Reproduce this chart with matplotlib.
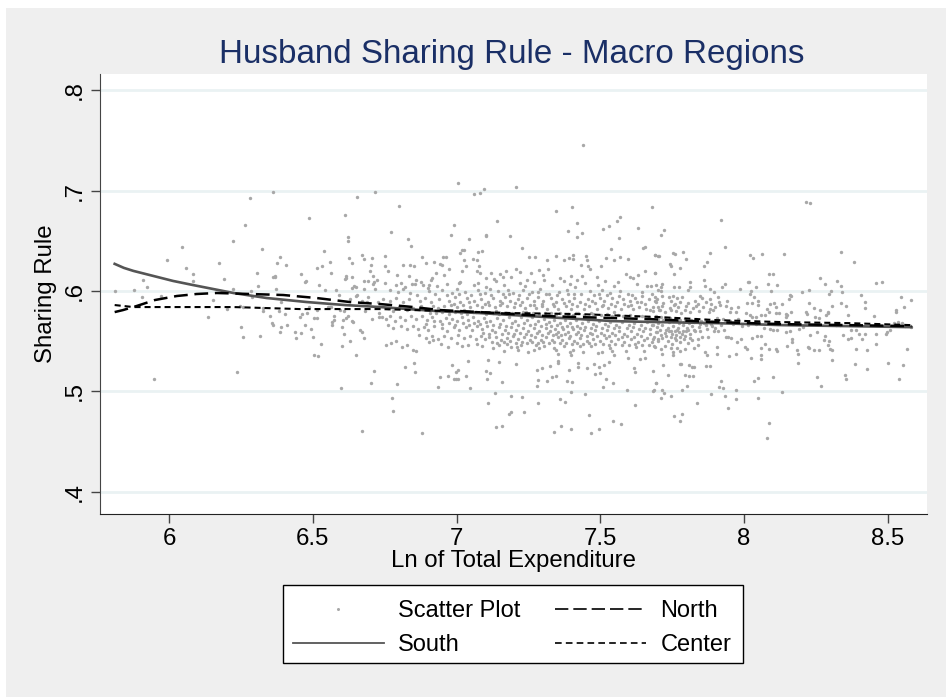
import matplotlib
matplotlib.use("Agg")
import matplotlib.pyplot as plt
from matplotlib.lines import Line2D
from matplotlib.patches import Rectangle

plt.rcParams['font.family'] = ['Liberation Sans', 'DejaVu Sans']

# points, (ln expenditure, sharing rule)
pts_left = [
    (5.811,.600),(5.879,.601),(5.908,.611),(5.925,.604),(5.905,.594),(5.972,.595),(5.949,.512),(5.993,.631),
    (6.046,.644),(6.058,.623),(6.082,.617),(6.082,.610),(6.152,.591),(6.136,.574),(6.174,.628),(6.191,.612),
    (6.224,.650),(6.263,.666),(6.283,.693),(6.363,.699),(6.224,.602),(6.238,.519),(6.249,.564),(6.257,.554),
    (6.202,.582),(6.247,.585),(6.258,.584),(6.285,.600),(6.287,.594),(6.308,.605),(6.307,.618),(6.324,.642),
    (6.315,.555),(6.326,.583),(6.328,.580),(6.352,.575),(6.357,.568),(6.360,.566),(6.362,.614),(6.368,.615),
    (6.369,.614),(6.373,.602),(6.374,.628),(6.387,.634),(6.407,.626),(6.390,.589),(6.384,.580),(6.402,.577),
    (6.388,.564),(6.385,.559),(6.410,.566),(6.439,.559),(6.440,.553),(6.458,.558),(6.459,.617),(6.473,.609),
    (6.476,.610),(6.454,.574),(6.463,.577),(6.480,.578),(6.474,.566),(6.495,.562),(6.502,.554),(6.488,.584),
    (6.504,.573),(6.516,.573),(6.515,.581),(6.516,.623),(6.533,.625),(6.538,.640),(6.560,.629),(6.563,.618),
    (6.523,.606),(6.543,.601),(6.582,.601),(6.527,.547),(6.504,.536),(6.518,.535),(6.488,.673),(6.612,.676),
    (6.655,.694),(6.717,.699),(6.621,.654),(6.621,.650),(6.625,.633),(6.638,.628),(6.670,.636),(6.677,.632),
    (6.705,.633),(6.701,.626),(6.699,.620),(6.612,.612),(6.615,.615),(6.616,.613),(6.635,.614),(6.643,.605),
    (6.652,.604),(6.635,.603),(6.677,.610),(6.691,.610),(6.708,.615),(6.714,.609),(6.710,.607),(6.722,.611),
    (6.717,.602),(6.677,.602),(6.691,.594),(6.592,.596),(6.564,.584),(6.554,.584),(6.560,.584),(6.574,.575),
    (6.574,.571),(6.566,.569),(6.566,.566),(6.600,.564),(6.604,.571),(6.615,.573),(6.623,.575),(6.638,.570),
    (6.639,.569),(6.595,.581),(6.610,.580),(6.628,.592),(6.652,.595),(6.654,.596),(6.609,.557),(6.629,.550),
    (6.601,.545),(6.651,.536),(6.665,.561),(6.671,.559),(6.679,.553),(6.705,.572),(6.712,.520),(6.701,.508),
    (6.599,.503),(6.671,.461),(6.731,.578),(6.731,.574),(6.728,.589),(6.681,.580),(6.670,.590),(6.687,.589),
]
pts_mid_sparse = [
    (7.440,.745),(7.006,.707),(7.060,.697),(7.083,.698),(7.097,.702),(7.207,.704),(6.801,.685),(6.773,.659),
    (6.830,.652),(6.841,.645),(6.751,.635),(6.990,.666),(6.982,.656),(7.043,.652),(7.141,.670),(7.101,.656),
    (7.104,.655),(7.185,.655),(7.229,.643),(7.346,.680),(7.400,.684),(7.420,.668),(7.386,.660),(7.437,.658),
    (7.418,.654),(7.508,.662),(7.531,.665),(7.558,.670),(7.567,.674),(7.566,.653),(7.632,.663),(7.681,.684),
    (7.649,.643),(7.655,.644),(7.537,.642),(7.012,.638),(7.019,.641),(7.026,.641),(7.074,.639),(7.087,.640),
    (7.027,.631),(7.058,.632),(7.070,.631),(6.881,.634),(6.895,.628),(6.923,.629),(6.954,.634),(6.963,.634),
    (6.943,.627),(6.948,.626),(6.975,.622),(7.253,.634),(7.272,.634),(7.316,.631),(7.346,.635),(7.374,.631),
    (7.390,.633),(7.406,.636),(7.404,.632),(7.451,.635),(7.455,.631),(7.432,.626),(7.458,.625),(7.464,.622),
    (7.503,.625),(7.521,.633),(7.549,.631),(7.569,.634),(7.597,.632),(7.690,.636),(7.702,.635),(7.691,.618),
    (7.655,.620),(7.078,.625),(7.032,.625),(7.019,.620),(7.070,.620),(7.082,.618),(6.750,.625),(6.815,.626),
    (6.837,.626),(6.853,.625),(6.763,.620),(6.793,.616),(6.836,.615),(6.859,.611),(6.857,.607),(6.928,.618),
    (6.958,.616),(6.914,.613),(6.910,.611),(6.882,.606),(6.902,.603),(7.009,.608),
    (6.879,.459),(6.776,.493),(6.779,.481),(6.793,.507),(6.934,.504),(7.048,.503),(7.134,.498),(7.111,.488),
    (7.191,.495),(7.229,.494),(7.184,.478),(7.188,.480),(7.235,.480),(7.137,.465),(7.159,.466),(7.284,.488),
    (7.338,.460),(7.362,.466),(7.398,.463),(7.359,.492),(7.378,.489),(7.397,.499),(7.445,.497),(7.459,.477),
    (7.469,.459),(7.495,.463),(7.543,.471),(7.571,.468),(7.620,.487),(7.594,.501),(7.684,.500),(7.686,.501),
    (7.693,.508),(7.281,.505),(7.284,.511),(7.315,.510),(7.331,.514),(7.346,.515),(7.384,.510),(7.403,.509),
    (7.509,.504),(7.521,.512),(7.545,.508),(7.483,.517),(7.499,.518),(7.157,.509),(7.106,.512),(7.104,.520),
    (7.115,.518),(6.943,.514),(6.970,.515),(6.991,.512),(6.998,.512),(7.004,.512),(7.034,.515),(7.004,.521),
    (6.998,.519),(6.985,.526),(7.039,.530),(6.821,.524),(6.851,.528),(6.855,.519),(7.109,.531),(7.148,.529),
    (7.207,.527),(7.281,.521),(7.296,.523),(7.326,.525),(7.353,.528),(7.354,.530),(7.390,.521),(7.421,.524),
    (7.423,.528),(7.452,.523),(7.478,.527),(7.496,.524),(7.514,.526),(7.531,.529),(7.596,.533),(7.617,.523),
    (7.622,.519),(7.637,.532),(7.655,.533),(7.682,.520),
]
pts_mid_dense = [
    (6.752,.608),(6.788,.606),(6.806,.608),(6.821,.604),(6.846,.607),(6.877,.609),(6.903,.606),(6.932,.605),
    (6.968,.607),(7.012,.609),(7.061,.606),(7.076,.608),(7.102,.604),(7.136,.610),(7.166,.606),(7.221,.608),
    (7.238,.605),(7.271,.609),(7.305,.611),(7.331,.606),(7.372,.610),(7.396,.607),(7.412,.604),(7.447,.608),
    (7.492,.606),(7.516,.610),(7.547,.605),(7.562,.609),(7.627,.607),(7.661,.605),(7.693,.606),
    (7.120,.618),(7.150,.617),(7.172,.620),(7.188,.614),(7.205,.622),(7.222,.619),(7.260,.618),(7.285,.621),
    (7.300,.616),(7.318,.622),(7.360,.613),(7.398,.615),(7.420,.611),(7.437,.615),(7.490,.614),(7.590,.617),
    (7.602,.614),(7.632,.616),(7.612,.613),(7.104,.613),(7.130,.612),(7.160,.614),(7.245,.611),
    (6.770,.601),(6.795,.599),(6.815,.602),(6.838,.598),(6.862,.596),(6.905,.600),(6.925,.597),(6.950,.601),
    (6.983,.598),(7.000,.602),(7.030,.599),(7.050,.596),(7.075,.601),(7.100,.598),(7.115,.602),(7.145,.600),
    (7.163,.597),(7.178,.601),(7.195,.598),(7.232,.601),(7.262,.599),(7.290,.602),(7.312,.597),(7.355,.599),
    (7.385,.601),(7.408,.597),(7.465,.600),(7.478,.596),(7.505,.601),(7.535,.598),(7.570,.600),(7.610,.596),
    (7.645,.599),(7.678,.597),(7.700,.601),
    (6.745,.592),(6.768,.590),(6.790,.593),(6.812,.589),(6.833,.592),(6.872,.590),(6.890,.593),(6.912,.589),
    (6.940,.592),(6.972,.590),(6.995,.594),(7.012,.589),(7.035,.593),(7.062,.590),(7.084,.592),(7.108,.589),
    (7.127,.593),(7.152,.590),(7.170,.594),(7.186,.590),(7.212,.592),(7.228,.589),(7.246,.593),(7.270,.590),
    (7.284,.594),(7.302,.590),(7.328,.593),(7.345,.589),(7.366,.592),(7.392,.590),(7.410,.593),(7.428,.589),
    (7.456,.592),(7.472,.590),(7.498,.593),(7.514,.590),(7.540,.593),(7.558,.589),(7.580,.592),(7.602,.590),
    (7.622,.593),(7.640,.589),(7.668,.592),(7.690,.590),
    (6.760,.583),(6.778,.580),(6.800,.584),(6.826,.581),(6.850,.583),(6.878,.585),(6.895,.582),(6.918,.585),
    (6.935,.583),(6.958,.585),(6.980,.586),(7.003,.584),(7.022,.586),(7.046,.584),(7.070,.586),(7.090,.584),
    (7.112,.586),(7.134,.584),(7.150,.586),(7.175,.585),(7.198,.584),(7.220,.586),(7.238,.583),(7.256,.586),
    (7.276,.583),(7.298,.585),(7.316,.582),(7.338,.585),(7.352,.582),(7.380,.585),(7.398,.582),(7.420,.585),
    (7.442,.582),(7.462,.585),(7.488,.582),(7.506,.585),(7.528,.583),(7.552,.585),(7.572,.582),(7.595,.585),
    (7.615,.582),(7.636,.584),(7.660,.582),(7.682,.584),(7.705,.581),
    (6.742,.574),(6.756,.572),(6.770,.575),(6.786,.570),(6.805,.574),(6.822,.571),(6.842,.575),(6.860,.572),
    (6.880,.575),(6.897,.571),(6.916,.574),(6.942,.570),(6.962,.573),(6.985,.572),(7.002,.570),(7.018,.574),
    (7.040,.571),(7.058,.574),(7.076,.570),(7.095,.573),(7.118,.570),(7.140,.573),(7.162,.571),(7.182,.574),
    (7.202,.570),(7.224,.574),(7.244,.571),(7.262,.574),(7.282,.570),(7.304,.572),(7.322,.569),(7.340,.571),
    (7.358,.568),(7.378,.571),(7.396,.568),(7.416,.571),(7.436,.568),(7.458,.570),(7.476,.567),(7.496,.570),
    (7.516,.567),(7.534,.569),(7.556,.566),(7.576,.569),(7.598,.566),(7.618,.568),(7.640,.566),(7.662,.569),
    (7.684,.566),(7.702,.568),
    (6.762,.566),(6.780,.563),(6.808,.565),(6.826,.562),(6.848,.565),(6.866,.562),(6.886,.564),(6.902,.561),
    (6.922,.565),(6.948,.563),(6.966,.560),(6.990,.564),(7.010,.561),(7.032,.564),(7.052,.561),(7.072,.565),
    (7.088,.562),(7.106,.565),(7.124,.561),(7.148,.564),(7.168,.561),(7.190,.564),(7.208,.561),(7.230,.563),
    (7.250,.560),(7.268,.563),(7.288,.560),(7.310,.563),(7.326,.560),(7.344,.562),(7.354,.559),(7.370,.562),
    (7.388,.559),(7.406,.562),(7.424,.559),(7.444,.561),(7.464,.558),(7.482,.561),(7.502,.558),(7.522,.561),
    (7.540,.558),(7.564,.560),(7.584,.557),(7.606,.560),(7.628,.557),(7.650,.560),(7.672,.557),(7.696,.559),
    (6.870,.556),(6.895,.553),(6.915,.555),(6.936,.552),(6.958,.555),(6.980,.553),(7.006,.556),(7.026,.553),
    (7.046,.555),(7.066,.552),(7.086,.555),(7.100,.552),(7.112,.554),(7.138,.554),(7.156,.551),(7.176,.553),
    (7.196,.555),(7.214,.552),(7.236,.554),(7.254,.551),(7.272,.554),(7.292,.551),(7.312,.554),(7.332,.551),
    (7.352,.554),(7.368,.551),(7.392,.553),(7.410,.550),(7.430,.553),(7.452,.550),(7.474,.552),(7.498,.550),
    (7.520,.553),(7.538,.550),(7.560,.552),(7.582,.549),(7.606,.552),(7.630,.549),(7.652,.551),(7.678,.549),
    (6.755,.546),(6.773,.548),(6.790,.550),(6.810,.544),(6.828,.546),(6.848,.541),(6.860,.540),(6.905,.549),
    (6.918,.551),(6.945,.547),(6.970,.544),(7.000,.548),(7.020,.545),(7.040,.546),(7.070,.547),(7.090,.545),
    (7.126,.543),(7.148,.546),(7.164,.540),(7.176,.547),(7.190,.544),(7.210,.544),(7.214,.541),(7.225,.546),
    (7.248,.539),(7.270,.541),(7.276,.546),(7.288,.543),(7.304,.545),(7.340,.543),(7.345,.541),(7.352,.537),
    (7.372,.545),(7.395,.539),(7.405,.541),(7.398,.536),(7.428,.545),(7.440,.539),(7.468,.545),(7.492,.538),
    (7.506,.539),(7.534,.543),(7.540,.540),(7.548,.536),(7.590,.540),(7.625,.544),(7.652,.540),(7.688,.545),
]
# the thick middle of the cloud, second pass
pts_mid_core = [
    (6.965,.596),(6.992,.587),(7.008,.597),(7.026,.581),(7.044,.589),(7.067,.579),(7.083,.597),(7.098,.587),
    (7.119,.596),(7.136,.580),(7.158,.588),(7.172,.578),(7.184,.597),(7.204,.588),(7.216,.596),(7.241,.579),
    (7.253,.597),(7.268,.586),(7.282,.599),(7.296,.587),(7.308,.578),(7.322,.597),(7.336,.587),(7.349,.596),
    (7.360,.578),(7.374,.588),(7.389,.597),(7.402,.587),(7.414,.578),(7.432,.597),(7.448,.587),(7.466,.578),
    (7.480,.588),(7.494,.597),(7.510,.586),(7.522,.596),(7.538,.587),(7.548,.579),(7.566,.595),(7.584,.587),
    (7.596,.597),(7.606,.586),(7.626,.589),(7.644,.595),(7.654,.587),(7.672,.581),
    (6.894,.567),(6.922,.570),(6.948,.567),(6.975,.568),(6.996,.566),(7.022,.568),(7.042,.566),(7.062,.568),
    (7.082,.567),(7.101,.569),(7.128,.566),(7.152,.567),(7.172,.565),(7.192,.568),(7.214,.566),(7.234,.568),
    (7.254,.566),(7.274,.567),(7.292,.565),(7.312,.567),(7.330,.565),(7.348,.566),(7.366,.564),(7.384,.565),
    (7.402,.564),(7.420,.565),(7.430,.563),(7.448,.564),(7.466,.563),(7.486,.565),(7.506,.563),(7.526,.565),
    (7.546,.563),(7.566,.564),(7.592,.563),(7.612,.564),(7.636,.562),(7.656,.563),(7.674,.562),
    (7.092,.558),(7.114,.557),(7.134,.559),(7.158,.557),(7.178,.558),(7.198,.557),(7.220,.558),(7.242,.557),
    (7.260,.556),(7.278,.558),(7.298,.556),(7.318,.558),(7.336,.556),(7.346,.557),(7.362,.556),(7.378,.557),
    (7.396,.555),(7.414,.557),(7.434,.556),(7.454,.555),(7.472,.557),(7.490,.555),(7.512,.556),(7.530,.555),
    (7.552,.556),(7.574,.554),(7.594,.555),(7.618,.554),(7.642,.555),(7.664,.553),(7.688,.554),
    (7.122,.549),(7.142,.548),(7.166,.549),(7.186,.550),(7.205,.548),(7.228,.549),(7.246,.548),(7.264,.549),
    (7.284,.548),(7.302,.549),(7.322,.548),(7.338,.549),(7.360,.548),(7.382,.548),(7.402,.547),(7.420,.548),
    (7.440,.547),(7.462,.548),(7.482,.547),(7.510,.547),(7.530,.546),(7.552,.547),(7.574,.546),(7.598,.546),
    (7.620,.547),(7.644,.546),(7.668,.546),
    (6.906,.578),(6.928,.578),(6.950,.579),(6.972,.577),(6.994,.579),(7.014,.578),(7.036,.577),(7.056,.579),
    (7.104,.577),(7.126,.578),(7.148,.577),(7.192,.578),(7.212,.577),(7.232,.579),(7.266,.578),(7.286,.577),
    (7.328,.578),(7.346,.577),(7.386,.577),(7.404,.576),(7.424,.578),(7.444,.576),(7.474,.577),(7.502,.576),
    (7.522,.577),(7.542,.575),(7.560,.576),(7.578,.575),(7.604,.576),(7.624,.574),(7.646,.575),(7.668,.574),
    (7.692,.575),(7.710,.574),(7.724,.572),(7.742,.573),(7.760,.572),(7.778,.571),(7.796,.572),(7.814,.571),
    (7.832,.572),(7.850,.570),(7.868,.571),(7.888,.570),(7.906,.573),(7.928,.572),(7.952,.570),(7.980,.572),
    (7.700,.552),(7.712,.556),(7.730,.555),(7.746,.554),(7.760,.553),(7.778,.554),(7.794,.555),(7.812,.553),
    (7.728,.561),(7.746,.560),(7.766,.561),(7.788,.560),(7.806,.561),(7.824,.561),(7.848,.560),(7.870,.562),
    (7.702,.572),(7.718,.571),(7.738,.569),(7.754,.570),(7.772,.568),(7.790,.569),(7.808,.568),(7.826,.569),
    (7.846,.567),(7.862,.568),(7.884,.567),
]
pts_right = [
    (7.920,.671),(7.711,.656),(7.722,.661),(7.934,.644),(7.689,.636),(7.704,.635),(7.751,.638),(7.759,.637),
    (7.787,.639),(7.799,.632),(7.743,.627),(7.746,.625),(7.777,.623),(7.689,.618),(7.757,.617),(7.883,.638),
    (7.872,.629),(7.862,.625),(8.020,.636),(8.031,.633),(8.061,.637),(8.137,.637),(8.214,.689),(8.229,.688),
    (8.338,.639),(8.383,.629),(8.087,.617),(8.100,.617),(8.264,.613),(8.280,.607),(8.322,.610),(8.336,.605),
    (8.339,.599),(8.301,.600),(8.295,.597),(8.460,.608),(8.481,.609),(8.547,.594),(8.582,.591),(8.555,.584),
    (8.405,.596),(8.422,.589),(8.419,.583),(8.527,.581),(8.529,.579),(8.453,.575),(8.361,.576),(8.356,.585),
    (8.336,.588),(8.305,.585),(8.292,.579),(8.285,.576),(7.861,.611),(7.863,.605),(7.881,.602),(7.897,.599),
    (7.813,.609),(7.811,.604),(7.806,.601),(7.714,.607),(7.711,.604),(7.757,.604),(7.775,.604),(7.675,.605),
    (7.710,.600),(7.934,.607),(7.923,.604),(7.986,.602),(8.014,.609),(8.017,.609),(8.042,.604),(8.025,.600),
    (8.021,.597),(8.035,.594),(8.083,.607),(8.115,.606),(8.095,.600),(8.202,.599),(8.225,.601),(8.159,.596),
    (8.164,.595),(8.156,.592),(7.913,.589),(7.940,.590),(7.937,.585),(7.977,.584),(7.971,.579),(7.954,.583),
    (7.952,.579),(8.010,.588),(8.028,.588),(8.049,.590),(8.049,.586),(8.090,.587),(8.104,.588),(8.111,.584),
    (8.132,.587),(8.080,.582),(8.086,.579),(8.110,.578),(8.123,.578),(8.145,.577),(8.163,.579),(8.145,.574),
    (8.149,.576),(8.008,.578),(8.020,.576),(8.029,.574),(8.043,.574),(8.058,.576),(8.072,.576),(8.225,.588),
    (8.244,.583),(8.263,.581),(8.293,.578),(8.214,.579),(8.217,.577),(8.248,.574),(8.259,.573),(8.344,.556),
    (8.360,.552),(8.372,.553),(8.389,.561),(8.370,.561),(8.399,.557),(8.410,.552),(8.419,.557),(8.458,.557),
    (8.492,.557),(8.498,.559),(8.506,.561),(8.388,.542),(8.426,.541),(8.458,.547),(8.565,.542),(8.386,.527),
    (8.426,.522),(8.499,.528),(8.551,.526),(8.538,.512),(8.352,.516),(8.356,.512),(8.252,.514),(8.266,.505),
    (8.306,.531),(8.298,.542),(8.305,.541),(8.291,.546),(8.295,.550),(8.278,.551),(8.242,.541),(8.261,.541),
    (8.225,.543),(8.221,.544),(8.188,.537),(8.184,.541),(8.189,.528),(8.149,.545),(8.166,.552),(8.166,.549),
    (8.110,.542),(8.116,.540),(8.086,.542),(8.058,.543),(8.059,.536),(8.060,.532),(8.025,.533),(8.002,.544),
    (8.011,.542),(7.972,.537),(7.947,.535),(7.906,.537),(7.904,.544),(8.072,.547),(8.045,.555),(8.058,.555),
    (8.029,.553),(7.989,.552),(7.976,.549),(7.938,.554),(7.945,.554),(7.954,.553),(7.929,.561),(7.910,.560),
    (7.894,.560),(7.875,.554),(7.852,.554),(7.838,.552),(7.863,.539),(7.871,.536),(7.838,.546),(7.826,.543),
    (7.883,.525),(7.867,.525),(7.824,.524),(7.809,.526),(7.818,.524),(7.781,.527),(7.777,.527),(7.717,.526),
    (7.736,.516),(7.795,.516),(7.809,.515),(7.823,.515),(7.801,.505),(7.784,.501),(7.694,.508),(7.714,.501),
    (7.722,.498),(7.711,.493),(7.745,.495),(7.835,.488),(7.886,.497),(7.911,.504),(7.928,.503),(7.920,.510),
    (7.932,.495),(7.973,.501),(7.972,.492),(7.944,.484),(7.755,.476),(7.783,.478),(7.777,.471),(8.035,.510),
    (8.047,.513),(8.102,.514),(8.047,.493),(8.133,.499),(8.086,.469),(8.078,.454),
    (7.739,.594),(7.753,.595),(7.767,.593),(7.784,.594),(7.846,.595),(7.852,.593),(7.881,.592),(7.910,.594),
    (7.689,.594),(7.697,.592),(7.716,.595),(7.695,.589),(7.718,.588),(7.747,.590),(7.759,.587),(7.776,.589),
    (7.805,.588),(7.828,.590),(7.840,.587),(7.869,.589),(7.886,.587),(7.915,.586),(7.701,.584),(7.713,.585),
    (7.742,.583),(7.755,.586),(7.770,.584),(7.799,.585),(7.823,.583),(7.834,.585),(7.857,.584),(7.881,.582),
    (7.898,.584),(7.684,.580),(7.707,.581),(7.724,.579),(7.744,.581),(7.762,.580),(7.779,.578),(7.794,.581),
    (7.811,.579),(7.843,.580),(7.878,.579),(7.892,.581),(7.680,.566),(7.696,.564),(7.716,.566),(7.735,.563),
    (7.752,.565),(7.770,.563),(7.786,.566),(7.802,.563),(7.820,.565),(7.842,.564),(7.866,.566),(7.890,.565),
    (7.692,.559),(7.708,.561),(7.724,.558),(7.738,.560),(7.750,.557),(7.758,.560),(7.763,.556),(7.772,.559),
    (7.784,.557),(7.798,.560),(7.812,.557),(7.828,.560),(7.900,.563),(7.918,.566),(7.960,.567),(7.992,.565),
    (8.012,.566),(8.040,.567),(8.070,.563),(8.090,.562),(7.682,.552),(7.702,.550),(7.716,.553),(7.736,.550),
    (7.748,.547),(7.764,.551),(7.776,.549),(7.792,.552),(7.806,.548),(7.820,.551),(7.690,.544),(7.710,.542),
    (7.725,.545),(7.744,.543),(7.752,.539),(7.768,.543),(7.778,.540),(7.795,.542),(7.714,.537),(7.752,.536),
    (8.145,.559),(8.115,.561),(8.100,.561),(8.160,.560),(8.190,.562),(8.205,.564),(8.230,.556),(8.252,.559),
    (8.280,.555),(8.320,.566),(8.335,.566),(8.520,.568),(8.534,.569),(8.548,.568),(8.560,.565),(8.582,.564),
]

# smoothed lines
south_x = [5.811,5.843,5.876,5.945,6.014,6.082,6.153,6.224,6.34,6.479,6.612,6.734,6.931,7.082,7.313,7.545,7.707,7.904,8.135,8.367,8.582]
south_y = [.627,.623,.620,.615,.610,.606,.602,.598,.593,.589,.586,.584,.580,.578,.574,.570,.569,.568,.566,.565,.564]
north_x = [5.811,5.84,5.887,5.951,6.027,6.096,6.166,6.282,6.397,6.513,6.629,6.734,6.85,6.943,7.082,7.313,7.672,7.904,8.135,8.367,8.582]
north_y = [.579,.581,.585,.591,.595,.597,.598,.597,.596,.593,.589,.587,.584,.581,.579,.575,.572,.569,.567,.566,.565]
center_x = [5.811,5.876,5.992,6.224,6.455,6.734,6.966,7.197,7.429,7.707,7.904,8.135,8.367,8.582]
center_y = [.586,.584,.584,.584,.582,.582,.580,.578,.577,.574,.571,.569,.568,.566]

x_ticks = [6, 6.5, 7, 7.5, 8, 8.5]
x_labels = ["6", "6.5", "7", "7.5", "8", "8.5"]
y_ticks = [.4, .5, .6, .7, .8]
y_labels = [".4", ".5", ".6", ".7", ".8"]

W, H = 952, 697
fig = plt.figure(figsize=(W / 100, H / 100), dpi=100, facecolor="white")
fig.add_artist(Rectangle((6 / W, 0), 940 / W, (H - 8) / H, transform=fig.transFigure,
                         facecolor="#efefef", edgecolor="none", zorder=-1))

ax = fig.add_axes([100 / W, 1 - 514 / H, 827 / W, 440 / H])
ax.set_xlim(5.760, 8.636)
ax.set_ylim(.378, .816)
ax.set_axisbelow(True)
ax.grid(axis="y", color="#eaf2f3", linewidth=2)

all_pts = pts_left + pts_mid_sparse + pts_mid_dense + pts_mid_core + pts_right
ax.scatter([p[0] for p in all_pts], [p[1] for p in all_pts], s=6, color="#a8a8a8", linewidths=0, zorder=2)
ax.plot(south_x, south_y, color="#555555", linewidth=1.9, zorder=3)
ax.plot(north_x, north_y, color="black", linewidth=1.8, dashes=(5.5, 2.7), zorder=3)
ax.plot(center_x, center_y, color="black", linewidth=1.5, dashes=(2.9, 1.9), zorder=3)

for side in ["top", "right"]:
    ax.spines[side].set_visible(False)
ax.spines["left"].set_color("#444444")
ax.spines["bottom"].set_color("#222222")

ax.set_xticks(x_ticks)
ax.set_xticklabels(x_labels, fontsize=17.3)
ax.set_yticks(y_ticks)
ax.set_yticklabels(y_labels, fontsize=17.3, rotation=90, va="center")
ax.tick_params(length=6.7, width=1, color="#444444", pad=3.5)
ax.set_xlabel("Ln of Total Expenditure", fontsize=17.3, labelpad=0)
ax.set_ylabel("Sharing Rule", fontsize=17.3, labelpad=5)
fig.text(512 / W, 1 - 55 / H, "Husband Sharing Rule - Macro Regions", fontsize=23.9, color="#1a2f66",
         ha="center", va="center")

# legend frame on its own, the entries sit a little low in it
fig.add_artist(Rectangle((283 / W, 1 - 663 / H), 460 / W, 78 / H, transform=fig.transFigure,
                         facecolor="white", edgecolor="black", linewidth=1, zorder=4))
h_scatter = Line2D([], [], linestyle="none", marker="o", markersize=2.2, markeredgewidth=0, color="#a8a8a8")
h_south = Line2D([], [], color="#555555", linewidth=1.3)
h_north = Line2D([], [], color="black", linewidth=1.2, dashes=(8, 3))
h_center = Line2D([], [], color="black", linewidth=1.2, dashes=(4, 2.5))
leg = fig.legend([h_scatter, h_south, h_north, h_center], ["Scatter Plot", "South", "North", "Center"],
                 ncol=2, loc="center", bbox_to_anchor=(512 / W, 1 - 628 / H), fontsize=17, frameon=False,
                 handlelength=3.85, columnspacing=1.5, handletextpad=.6, labelspacing=.5, borderpad=.45,
                 borderaxespad=0)
leg.set_zorder(5)

fig.savefig("out.png", dpi=100, facecolor=fig.get_facecolor())
